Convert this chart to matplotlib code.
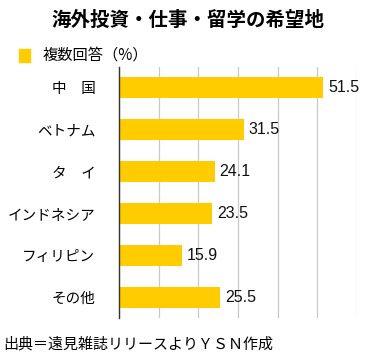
import matplotlib
matplotlib.use("Agg")
import matplotlib.pyplot as plt
from matplotlib.patches import Rectangle

plt.rcParams["font.family"] = ["Noto Sans CJK JP", "DejaVu Sans"]

# ---- chart data ----
countries = ["中　国", "ベトナム", "タ　イ", "インドネシア", "フィリピン", "その他"]
values = [51.5, 31.5, 24.1, 23.5, 15.9, 25.5]
title = "海外投資・仕事・留学の希望地"
legend_label = "複数回答（%）"
source = "出典＝遠見雑誌リリースよりＹＳＮ作成"

BAR_COLOR = "#FFCC00"

fig = plt.figure(figsize=(3.75, 3.57), dpi=100)
ax = fig.add_axes([0.3173, 0.1092, 0.952 - 0.3173, 0.8123 - 0.1092])

ypos = list(range(len(countries)))
ax.barh(ypos, values, height=0.5, color=BAR_COLOR, zorder=3)
ax.set_ylim(len(countries) - 0.5, -0.5)
ax.set_xlim(0, 60)
ax.set_xticks(range(0, 61, 10))
ax.xaxis.grid(True, color="#c8c8c8", linewidth=0.9, zorder=0)
ax.tick_params(axis="x", length=0, labelbottom=False)
ax.tick_params(axis="y", length=0, pad=17, labelsize=10.5)
ax.set_yticks(ypos)
ax.set_yticklabels(countries)

for s in ["top", "right", "bottom"]:
    ax.spines[s].set_visible(False)
ax.spines["left"].set_color("#333333")
ax.spines["left"].set_linewidth(1.0)
ax.spines["left"].set_zorder(4)

for y, v in zip(ypos, values):
    ax.text(v + 1.2, y, f"{v}", va="center", ha="left", fontsize=11.5,
            family="Liberation Sans", color="#111111")

fig.text(0.5, 1 - 20 / 357, title, ha="center", va="center", fontsize=14,
         weight="bold")
fig.patches.append(Rectangle((19 / 375, 1 - 62 / 357), 11 / 375, 13 / 357,
                             transform=fig.transFigure, color=BAR_COLOR))
fig.text(43 / 375, 1 - 55 / 357, legend_label, ha="left", va="center",
         fontsize=11)
fig.text(3 / 375, 1 - 344 / 357, source, ha="left", va="center", fontsize=10.8)

fig.savefig("out.png", dpi=100)
